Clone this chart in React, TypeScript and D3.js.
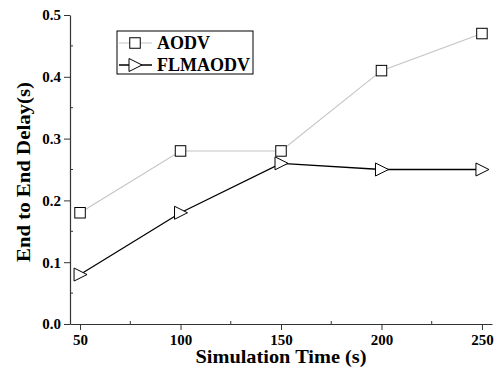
import React, { useEffect, useRef } from "react";
import * as d3 from "d3";

const times = [50, 100, 150, 200, 250];
const aodv = [0.18, 0.28, 0.28, 0.41, 0.47];
const flmaodv = [0.08, 0.18, 0.26, 0.25, 0.25];
const xTicks = [50, 100, 150, 200, 250];
const xMinor = [75, 125, 175, 225];
const yTicks = [0, 0.1, 0.2, 0.3, 0.4, 0.5];
const yMinor = [0.05, 0.15, 0.25, 0.35, 0.45];
const seriesNames = ["AODV", "FLMAODV"];

const W = 498, H = 369;
const FONT = "Liberation Serif, Times New Roman, serif";

export default function App() {
  const ref = useRef<SVGSVGElement>(null);

  useEffect(() => {
    const svg = d3.select(ref.current);
    svg.selectAll("*").remove();
    const x = d3.scaleLinear().domain([45, 255]).range([70, 492]);
    const y = d3.scaleLinear().domain([0, 0.5]).range([324, 15]);
    const axisColor = "#333";

    const line = d3.line<number>().x((_, i) => x(times[i])).y((d) => y(d));
    svg.append("path").attr("d", line(aodv)).attr("fill", "none").attr("stroke", "#c4c4c4").attr("stroke-width", 1.1);
    svg.append("path").attr("d", line(flmaodv)).attr("fill", "none").attr("stroke", "#000").attr("stroke-width", 1.3);

    const sq = 10.5;
    const drawSquare = (g: any, cx: number, cy: number) =>
      g.append("rect").attr("x", cx - sq / 2).attr("y", cy - sq / 2).attr("width", sq).attr("height", sq)
        .attr("fill", "#fff").attr("stroke", "#000").attr("stroke-width", 1);
    const drawTri = (g: any, cx: number, cy: number) =>
      g.append("path").attr("d", `M${cx - 6},${cy - 6.5}L${cx + 7},${cy}L${cx - 6},${cy + 6.5}Z`)
        .attr("fill", "#fff").attr("stroke", "#000").attr("stroke-width", 1);

    aodv.forEach((v, i) => drawSquare(svg, x(times[i]), y(v)));
    flmaodv.forEach((v, i) => drawTri(svg, x(times[i]), y(v)));

    const gx = svg.append("g").attr("transform", "translate(0,324)")
      .call(d3.axisBottom(x).tickValues(xTicks).tickSize(6).tickSizeOuter(0).tickFormat(d3.format("d")));
    gx.attr("font-family", null).attr("font-size", null);
    gx.selectAll("text").style("font-family", FONT).style("font-weight", "bold").style("font-size", "15px").attr("fill", "#000").attr("dy", "0.9em").attr("y", 7);
    gx.append("g").selectAll("line").data(xMinor).join("line")
      .attr("x1", (d) => x(d)).attr("x2", (d) => x(d)).attr("y1", 0).attr("y2", -3).attr("stroke", axisColor);

    const gy = svg.append("g").attr("transform", "translate(70,0)")
      .call(d3.axisLeft(y).tickValues(yTicks).tickSize(6).tickSizeOuter(0).tickFormat(d3.format(".1f")));
    gy.attr("font-family", null).attr("font-size", null);
    gy.selectAll("text").style("font-family", FONT).style("font-weight", "bold").style("font-size", "15px").attr("fill", "#000").attr("x", -9);
    gy.append("g").selectAll("line").data(yMinor).join("line")
      .attr("y1", (d) => y(d)).attr("y2", (d) => y(d)).attr("x1", 0).attr("x2", 3).attr("stroke", axisColor);

    svg.selectAll(".domain").attr("stroke", axisColor).attr("stroke-width", 1.2);
    svg.selectAll(".tick line").attr("stroke", axisColor);

    svg.append("text").attr("x", 281).attr("y", 363).attr("text-anchor", "middle")
      .style("font-family", FONT).style("font-weight", "bold").style("font-size", "19px")
      .attr("textLength", 171).attr("lengthAdjust", "spacingAndGlyphs")
      .text("Simulation Time (s)");
    svg.append("text").attr("transform", "translate(30,172) rotate(-90)").attr("text-anchor", "middle")
      .style("font-family", FONT).style("font-weight", "bold").style("font-size", "19px")
      .attr("textLength", 180).attr("lengthAdjust", "spacingAndGlyphs")
      .text("End to End Delay(s)");

    const lg = svg.append("g");
    lg.append("rect").attr("x", 117).attr("y", 31).attr("width", 136).attr("height", 43)
      .attr("fill", "#fff").attr("stroke", "#000").attr("stroke-width", 1);
    const rows = [43, 65];
    lg.append("line").attr("x1", 119).attr("x2", 152).attr("y1", rows[0]).attr("y2", rows[0]).attr("stroke", "#c4c4c4").attr("stroke-width", 1.1);
    drawSquare(lg, 135, rows[0]);
    lg.append("line").attr("x1", 119).attr("x2", 152).attr("y1", rows[1]).attr("y2", rows[1]).attr("stroke", "#000").attr("stroke-width", 1.3);
    drawTri(lg, 135, rows[1]);
    seriesNames.forEach((n, i) => {
      lg.append("text").attr("x", 157).attr("y", rows[i] + 6)
        .style("font-family", FONT).style("font-weight", "bold").style("font-size", "18px").text(n);
    });
  }, []);

  return (
    <svg ref={ref} width={W} height={H} style={{ position: "absolute", left: 0, top: 0, background: "#fff" }} />
  );
}
